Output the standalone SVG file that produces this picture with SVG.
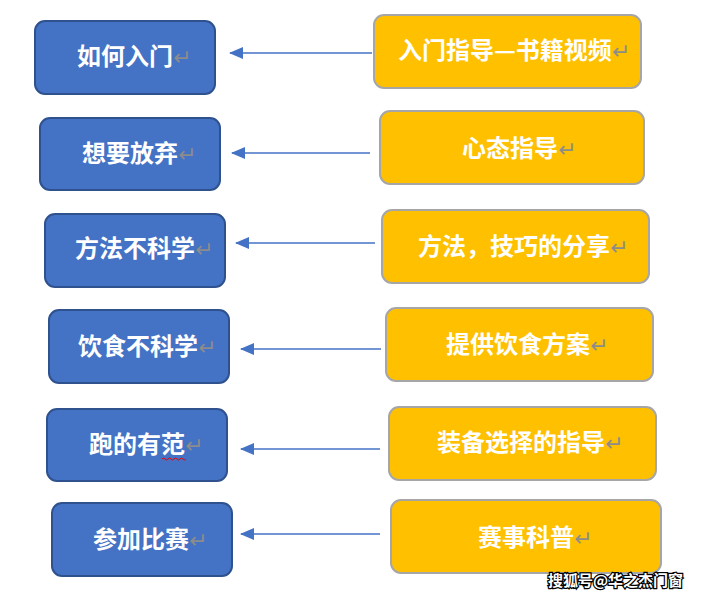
<svg xmlns="http://www.w3.org/2000/svg" width="701" height="598" viewBox="0 0 701 598">
<style>
.l{fill:#4472C4;stroke:#2F528F;stroke-width:2}
.r{fill:#FFC000;stroke:#A6A6A6;stroke-width:2}
.t{font-family:"Noto Sans CJK SC","Noto Sans",sans-serif;font-size:24px;font-weight:bold;fill:#fff}
.ret{font-family:"DejaVu Sans",sans-serif;font-size:22px;font-weight:normal;fill:#8c8c8c}
.c{stroke:#4472C4;stroke-width:1.3;fill:none}
.wm{font-family:"Noto Sans CJK SC",sans-serif;font-size:15px;font-weight:bold;fill:#fff;stroke:#000;stroke-width:2.5;paint-order:stroke}
</style>
<defs>
<marker id="a" viewBox="0 0 14 12" refX="13" refY="6" markerWidth="14" markerHeight="12" markerUnits="userSpaceOnUse" orient="auto">
<path d="M0,0 L14,6 L0,12 Z" fill="#4472C4"/>
</marker>
</defs>
<rect width="701" height="598" fill="#fff"/>
<g id="connectors">
<path class="c" d="M372,53 H230" marker-end="url(#a)"/>
<path class="c" d="M370,153 H232" marker-end="url(#a)"/>
<path class="c" d="M375,243 H236" marker-end="url(#a)"/>
<path class="c" d="M381,349 H241" marker-end="url(#a)"/>
<path class="c" d="M380,449 H241" marker-end="url(#a)"/>
<path class="c" d="M380,534 H241" marker-end="url(#a)"/>
</g>
<g id="n1"><rect class="l" x="35" y="21" width="180" height="73" rx="10"/><text class="t" x="77" y="65">如何入门<tspan class="ret">↵</tspan></text></g>
<g id="n2"><rect class="l" x="40" y="118" width="180" height="72" rx="10"/><text class="t" x="82" y="162">想要放弃<tspan class="ret">↵</tspan></text></g>
<g id="n3"><rect class="l" x="45" y="214" width="180" height="73" rx="10"/><text class="t" x="75" y="257">方法不科学<tspan class="ret">↵</tspan></text></g>
<g id="n4"><rect class="l" x="49" y="310" width="180" height="73" rx="10"/><text class="t" x="78" y="355">饮食不科学<tspan class="ret">↵</tspan></text></g>
<g id="n5"><rect class="l" x="47" y="409" width="180" height="72" rx="10"/><text class="t" x="89" y="453">跑的有范<tspan class="ret">↵</tspan></text>
<path d="M162,459 q1.5,-2 3,0 t3,0 t3,0 t3,0 t3,0 t3,0 t3,0 t3,0" stroke="#e00" stroke-width="1" fill="none"/></g>
<g id="n6"><rect class="l" x="52" y="503" width="180" height="73" rx="10"/><text class="t" x="93" y="548">参加比赛<tspan class="ret">↵</tspan></text></g>
<g id="r1"><rect class="r" x="374" y="15" width="267" height="73" rx="10"/><text class="t" x="398" y="59">入门指导—书籍视频<tspan class="ret">↵</tspan></text></g>
<g id="r2"><rect class="r" x="380" y="111" width="264" height="73" rx="10"/><text class="t" x="462" y="157">心态指导<tspan class="ret">↵</tspan></text></g>
<g id="r3"><rect class="r" x="382" y="210" width="267" height="73" rx="10"/><text class="t" x="418" y="255">方法，技巧的分享<tspan class="ret">↵</tspan></text></g>
<g id="r4"><rect class="r" x="386" y="308" width="267" height="73" rx="10"/><text class="t" x="446" y="353">提供饮食方案<tspan class="ret">↵</tspan></text></g>
<g id="r5"><rect class="r" x="389" y="407" width="267" height="73" rx="10"/><text class="t" x="437" y="451">装备选择的指导<tspan class="ret">↵</tspan></text></g>
<g id="r6"><rect class="r" x="391" y="500" width="270" height="73" rx="10"/><text class="t" x="478" y="546">赛事科普<tspan class="ret">↵</tspan></text></g>
<text class="wm" x="548" y="586">搜狐号@华之杰门窗</text>
</svg>
